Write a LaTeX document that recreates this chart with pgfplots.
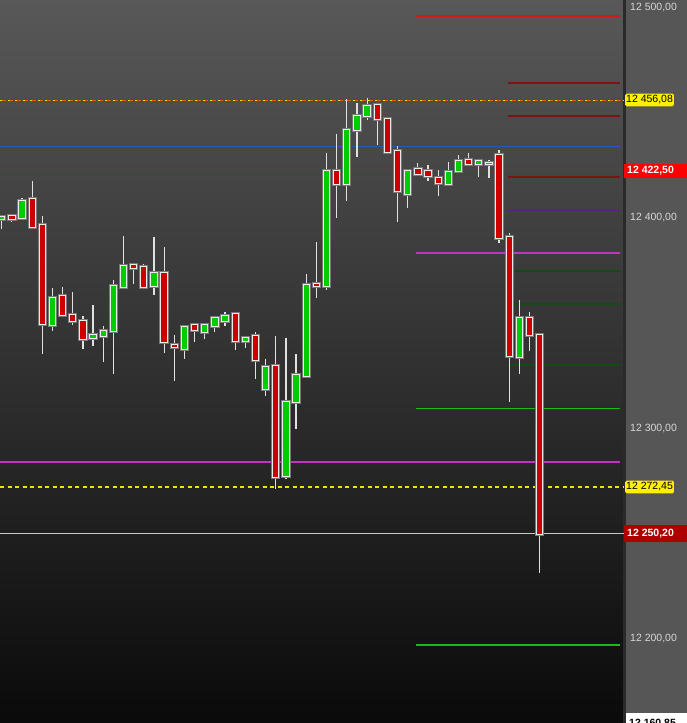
\documentclass[border=0pt]{standalone}
\usepackage{pgfplots}
\pgfplotsset{compat=1.18}
\usepackage{pgfplotstable}
\usepackage{fontspec}
\setmainfont{Liberation Sans}
\definecolor{bgtop}{RGB}{88,88,88}
\definecolor{bgbot}{RGB}{10,10,10}
\definecolor{panel}{RGB}{86,86,86}
\definecolor{divider}{RGB}{42,42,42}
\definecolor{ticktext}{RGB}{215,215,215}
\definecolor{cgreen}{RGB}{0,205,0}
\definecolor{cred}{RGB}{205,0,0}
\definecolor{wick}{RGB}{225,225,225}
\definecolor{border}{RGB}{235,235,235}
\definecolor{shadow}{RGB}{120,120,120}
\definecolor{lred}{RGB}{210,25,25}
\definecolor{dred}{RGB}{125,20,20}
\definecolor{dotred}{RGB}{150,35,35}
\definecolor{lpurple}{RGB}{85,35,140}
\definecolor{lmag}{RGB}{195,50,195}
\definecolor{dgreen}{RGB}{20,75,20}
\definecolor{lgreen}{RGB}{20,190,20}
\definecolor{lblue}{RGB}{45,85,190}
\definecolor{lorange}{RGB}{235,90,20}
\definecolor{lyellow}{RGB}{240,225,0}
\definecolor{boxyellow}{RGB}{255,240,0}
\definecolor{boxred}{RGB}{255,0,0}
\definecolor{boxdred}{RGB}{175,0,0}
\definecolor{lgray}{RGB}{200,200,200}

% x O H L C   (up candles)
\pgfplotstableread{
x O H L C
1 12399.6 12401.2 12395.2 12400.9
3 12400.4 12409.7 12400.4 12408.3
6 12349.5 12366.8 12346.7 12362.2
10 12343.4 12358.9 12339.4 12344.5
11 12344.3 12349.1 12331.8 12346.4
12 12346.7 12370.8 12326.1 12367.9
13 12367.3 12391.7 12367.3 12377.3
16 12368.1 12391.2 12363.7 12374.1
19 12337.9 12348.9 12333.4 12348.3
21 12345.9 12350.2 12342.6 12349.3
22 12349.1 12352.6 12345.9 12352.6
23 12351.3 12355.6 12349.1 12353.5
25 12341.7 12344.2 12338.3 12343.2
27 12318.9 12333.3 12315.8 12329.5
29 12277.5 12343.1 12276.4 12313.0
30 12313.0 12335.6 12300.0 12325.5
31 12325.0 12373.6 12325.0 12368.4
33 12368.1 12431.0 12365.9 12422.6
35 12416.4 12456.8 12408.5 12442.2
36 12442.0 12454.7 12429.2 12448.6
37 12448.8 12457.2 12446.9 12453.3
41 12411.4 12423.5 12405.1 12422.4
45 12416.5 12426.8 12416.5 12422.1
46 12422.7 12430.2 12421.5 12427.2
48 12426.0 12428.1 12419.9 12427.2
49 12426.1 12427.6 12419.2 12426.4
52 12334.3 12361.3 12326.0 12352.9
}\uptab

% down candles
\pgfplotstableread{
x O H L C
2 12401.2 12401.2 12398.5 12399.6
4 12409.1 12417.8 12396.1 12396.1
5 12396.8 12401.2 12335.6 12349.9
7 12363.2 12367.6 12353.8 12354.3
8 12354.0 12365.1 12349.5 12351.4
9 12351.4 12353.8 12338.0 12342.9
14 12377.9 12378.7 12369.0 12376.6
15 12376.9 12378.2 12366.7 12367.6
17 12374.1 12386.5 12336.3 12341.2
18 12339.9 12344.7 12322.9 12338.8
20 12349.3 12349.3 12341.2 12347.0
24 12354.6 12354.6 12337.7 12341.7
26 12344.3 12346.1 12323.9 12332.9
28 12329.9 12344.3 12271.4 12277.2
32 12368.7 12388.8 12362.1 12367.8
34 12422.6 12440.1 12400.4 12416.5
38 12453.9 12453.9 12434.9 12447.4
39 12447.1 12447.7 12431.3 12431.7
40 12432.1 12434.4 12398.2 12412.9
42 12423.5 12426.2 12420.3 12421.1
43 12422.4 12425.4 12418.0 12420.2
44 12419.2 12423.0 12410.7 12416.7
47 12427.6 12431.1 12425.1 12426.0
50 12430.2 12432.5 12388.2 12390.5
51 12391.2 12393.0 12313.0 12334.8
53 12352.6 12355.7 12337.1 12344.5
54 12344.7 12345.7 12231.7 12250.2
}\downtab

\pgfplotsset{
  nomk/.style={only marks, mark=*, mark size=0pt, mark options={draw opacity=0, fill opacity=0}},
}

\begin{document}
\begin{tikzpicture}
\fill[panel] (0pt,0pt) rectangle (687pt,723pt);
\shade[top color=bgtop, bottom color=bgbot] (0pt,0pt) rectangle (624pt,723pt);
\fill[divider] (623pt,0pt) rectangle (625.5pt,723pt);
\begin{axis}[at={(0pt,0pt)}, anchor=south west, scale only axis,
  width=624pt, height=723pt, hide axis, clip=true, clip bounding box=upper bound,
  xmin=0.8325, xmax=62.31, ymin=12160.3, ymax=12503.8]

% horizontal levels (full width)
\addplot[lblue, line width=1pt] coordinates {(0.8325,12434.0) (61.92,12434.0)};
\addplot[dotred, line width=1pt, dash pattern=on 2pt off 2pt] coordinates {(0.8325,12422.5) (62.31,12422.5)};
\addplot[lmag, line width=1.3pt] coordinates {(0.8325,12284.3) (61.92,12284.3)};
\addplot[lgray, line width=1pt] coordinates {(0.8325,12250.2) (62.31,12250.2)};
\addplot[lyellow, line width=1.2pt, dash pattern=on 4pt off 3.5pt] coordinates {(0.8325,12272.45) (62.31,12272.45)};
\addplot[lorange, line width=1.5pt, dash pattern=on 5.5pt off 2pt] coordinates {(0.8325,12456.08) (62.31,12456.08)};
\addplot[lyellow, line width=1.5pt, dash pattern=on 2pt off 5.5pt] coordinates {(0.8325,12456.08) (62.31,12456.08)};

% right-side levels
\addplot[lred, line width=1.3pt] coordinates {(41.82,12496.2) (61.92,12496.2)};
\addplot[dred, line width=1.3pt] coordinates {(50.88,12464.4) (61.92,12464.4)};
\addplot[dred, line width=1.3pt] coordinates {(50.88,12448.7) (61.92,12448.7)};
\addplot[dred, line width=1.3pt] coordinates {(50.88,12419.7) (61.92,12419.7)};
\addplot[lpurple, line width=1.3pt] coordinates {(50.88,12404.0) (61.92,12404.0)};
\addplot[lmag, line width=1.3pt] coordinates {(41.82,12383.6) (61.92,12383.6)};
\addplot[dgreen, line width=1.3pt] coordinates {(50.88,12375.1) (61.92,12375.1)};
\addplot[dgreen, line width=1.3pt] coordinates {(50.88,12359.4) (61.92,12359.4)};
\addplot[dgreen, line width=1.3pt] coordinates {(50.88,12330.4) (61.92,12330.4)};
\addplot[lgreen, line width=1.3pt] coordinates {(41.82,12309.8) (61.92,12309.8)};
\addplot[lgreen, line width=1.3pt] coordinates {(41.82,12197.4) (61.92,12197.4)};

% wicks
\addplot[nomk, error bars/.cd, y dir=plus, y explicit, error mark=none,
  error bar style={line width=1.2pt, color=wick}]
  table[x=x, y=L, y error expr=\thisrow{H}-\thisrow{L}] {\uptab};
\addplot[nomk, error bars/.cd, y dir=plus, y explicit, error mark=none,
  error bar style={line width=1.2pt, color=wick}]
  table[x=x, y=L, y error expr=\thisrow{H}-\thisrow{L}] {\downtab};
% body shadows
\addplot[nomk, error bars/.cd, y dir=plus, y explicit, error mark=none,
  error bar style={line width=9.3pt, color=shadow}]
  table[x=x, y expr=\thisrow{O}-0.95, y error expr=\thisrow{C}-\thisrow{O}+1.9] {\uptab};
\addplot[nomk, error bars/.cd, y dir=plus, y explicit, error mark=none,
  error bar style={line width=9.3pt, color=shadow}]
  table[x=x, y expr=\thisrow{C}-0.95, y error expr=\thisrow{O}-\thisrow{C}+1.9] {\downtab};
% body borders
\addplot[nomk, error bars/.cd, y dir=plus, y explicit, error mark=none,
  error bar style={line width=7.3pt, color=border}]
  table[x=x, y expr=\thisrow{O}-0.475, y error expr=\thisrow{C}-\thisrow{O}+0.95] {\uptab};
\addplot[nomk, error bars/.cd, y dir=plus, y explicit, error mark=none,
  error bar style={line width=7.3pt, color=border}]
  table[x=x, y expr=\thisrow{C}-0.475, y error expr=\thisrow{O}-\thisrow{C}+0.95] {\downtab};
% body fills
\addplot[nomk, error bars/.cd, y dir=plus, y explicit, error mark=none,
  error bar style={line width=5.3pt, color=cgreen}]
  table[x=x, y=O, y error expr=\thisrow{C}-\thisrow{O}] {\uptab};
\addplot[nomk, error bars/.cd, y dir=plus, y explicit, error mark=none,
  error bar style={line width=5.3pt, color=cred}]
  table[x=x, y=C, y error expr=\thisrow{O}-\thisrow{C}] {\downtab};
\end{axis}

% price scale
\node[anchor=west, inner sep=0pt, text=ticktext, font=\fontsize{10.5}{12}\selectfont] at (630pt,715pt) {12 500,00};
\node[anchor=west, inner sep=0pt, text=ticktext, font=\fontsize{10.5}{12}\selectfont] at (630pt,505pt) {12 400,00};
\node[anchor=west, inner sep=0pt, text=ticktext, font=\fontsize{10.5}{12}\selectfont] at (630pt,294.5pt) {12 300,00};
\node[anchor=west, inner sep=0pt, text=ticktext, font=\fontsize{10.5}{12}\selectfont] at (630pt,84pt) {12 200,00};

\node[anchor=west, fill=boxyellow, rounded corners=1.5pt, inner xsep=1pt, inner ysep=2pt, text=black, font=\fontsize{10.5}{12}\selectfont] at (625pt,623pt) {12 456,08};
\node[anchor=west, fill=boxyellow, rounded corners=1.5pt, inner xsep=1pt, inner ysep=2pt, text=black, font=\fontsize{10.5}{12}\selectfont] at (625pt,236pt) {12 272,45};

\fill[boxred] (624pt,545pt) rectangle (687pt,559pt);
\node[anchor=west, inner sep=0pt, text=white, font=\bfseries\fontsize{10.5}{12}\selectfont] at (627pt,552pt) {12 422,50};
\fill[boxdred] (624pt,181pt) rectangle (687pt,198pt);
\node[anchor=west, inner sep=0pt, text=white, font=\bfseries\fontsize{10.5}{12}\selectfont] at (627pt,189.5pt) {12 250,20};
\fill[white] (626pt,0pt) rectangle (687pt,10pt);
\begin{scope}
\clip (626pt,0pt) rectangle (687pt,10pt);
\node[overlay, anchor=base west, inner sep=0pt, text=black, font=\bfseries\fontsize{10.5}{12}\selectfont] at (629pt,-3pt) {12 160,85};
\end{scope}
\end{tikzpicture}
\end{document}
